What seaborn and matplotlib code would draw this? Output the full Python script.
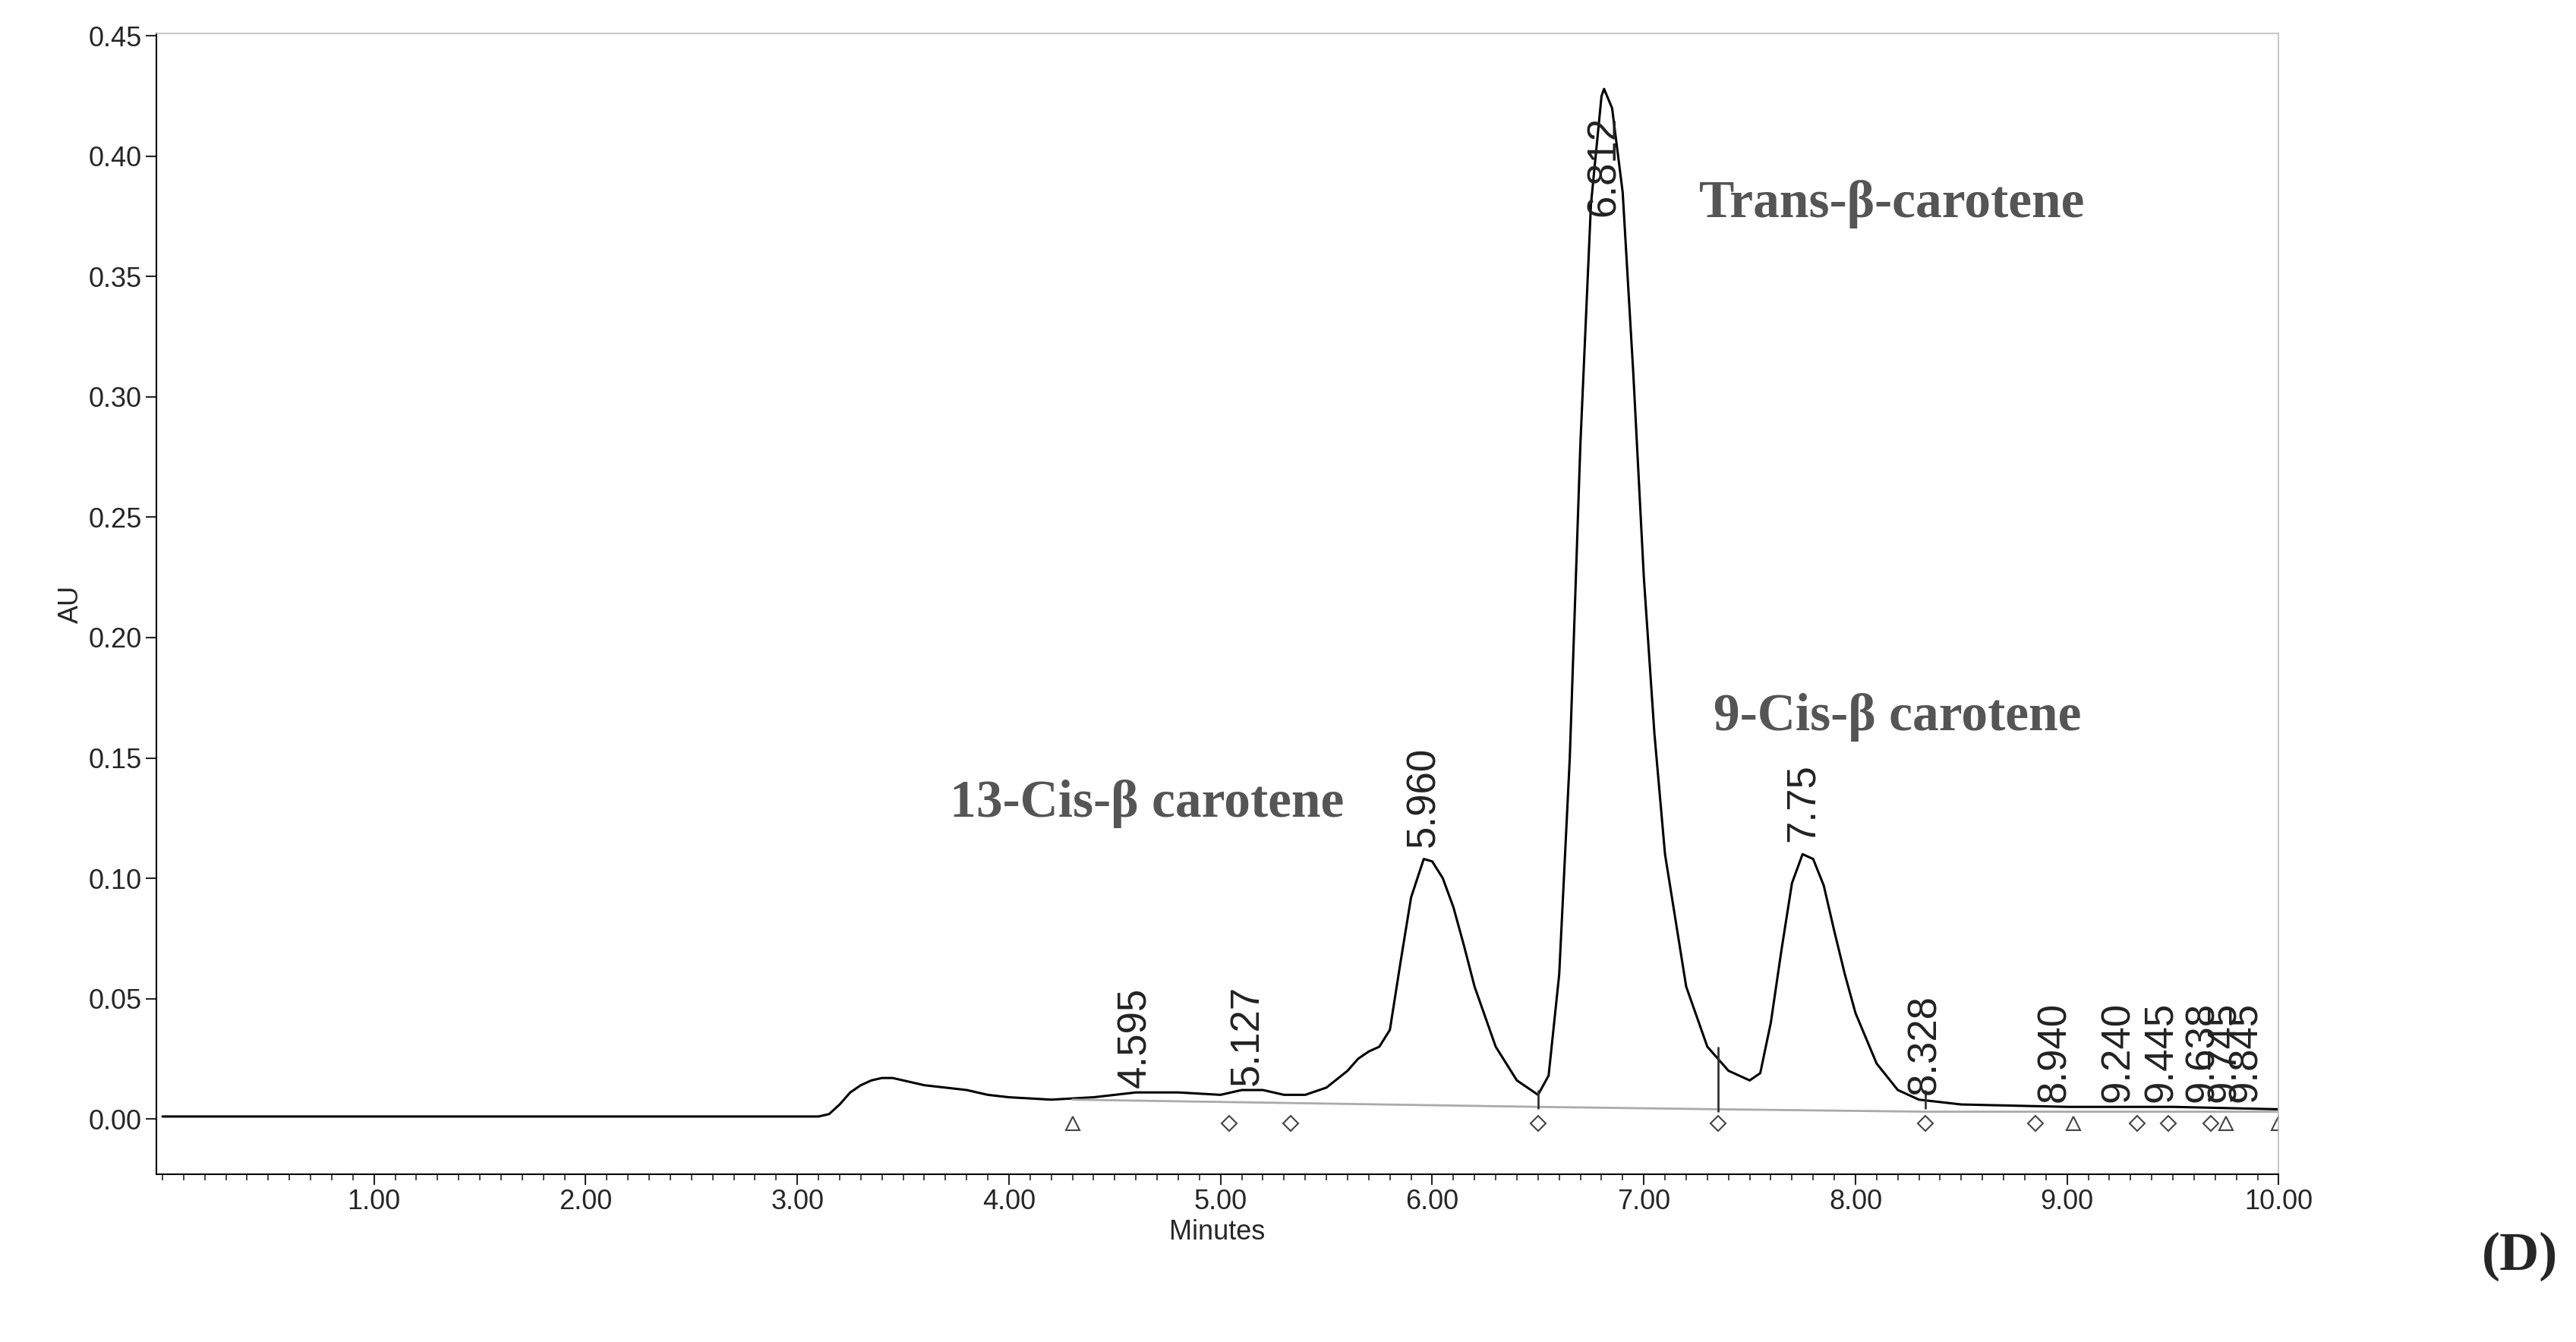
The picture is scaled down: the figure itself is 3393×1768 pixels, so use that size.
import numpy as np
import pandas as pd
import matplotlib
matplotlib.use("Agg")
import matplotlib.pyplot as plt
import seaborn as sns
from matplotlib.ticker import MultipleLocator, FormatStrFormatter

sns.set_theme(style="white")
plt.rcParams['font.family'] = ['Liberation Sans', 'DejaVu Sans']

# chromatogram trace (minutes, AU)
minutes = [0.0, 0.5, 1.0, 1.5, 2.0, 2.5, 3.0, 3.1, 3.15, 3.2, 3.25, 3.3, 3.35, 3.4, 3.45, 3.5,
           3.6, 3.7, 3.8, 3.9, 4.0, 4.2, 4.4, 4.6, 4.8, 5.0, 5.1, 5.2, 5.3, 5.4, 5.5, 5.6,
           5.65, 5.7, 5.75, 5.8, 5.85, 5.9, 5.96, 6.0, 6.05, 6.1, 6.15, 6.2, 6.3, 6.4, 6.5,
           6.55, 6.6, 6.65, 6.7, 6.75, 6.8, 6.812, 6.85, 6.9, 6.95, 7.0, 7.05, 7.1, 7.2,
           7.3, 7.4, 7.5, 7.55, 7.6, 7.65, 7.7, 7.75, 7.8, 7.85, 7.9, 7.95, 8.0, 8.1, 8.2,
           8.3, 8.5, 9.0, 9.5, 10.0]
au = [0.001, 0.001, 0.001, 0.001, 0.001, 0.001, 0.001, 0.001, 0.002, 0.006, 0.011, 0.014,
      0.016, 0.017, 0.017, 0.016, 0.014, 0.013, 0.012, 0.010, 0.009, 0.008, 0.009, 0.011,
      0.011, 0.010, 0.012, 0.012, 0.010, 0.010, 0.013, 0.020, 0.025, 0.028, 0.030, 0.037,
      0.065, 0.092, 0.108, 0.107, 0.100, 0.088, 0.072, 0.055, 0.030, 0.016, 0.010, 0.018,
      0.060, 0.150, 0.280, 0.380, 0.425, 0.428, 0.420, 0.385, 0.310, 0.225, 0.160, 0.110,
      0.055, 0.030, 0.020, 0.016, 0.019, 0.040, 0.070, 0.098, 0.110, 0.108, 0.097, 0.078,
      0.060, 0.044, 0.023, 0.012, 0.008, 0.006, 0.005, 0.005, 0.004]

# integration baseline
base_x = [4.3, 6.5, 7.35, 8.33, 10.0]
base_y = [0.008, 0.005, 0.004, 0.003, 0.003]

# peak labels
peak_rt = ["4.595", "5.127", "5.960", "6.812", "7.75", "8.328", "8.940", "9.240",
           "9.445", "9.638", "9.745", "9.845"]
peak_x = [4.595, 5.127, 5.960, 6.812, 7.75, 8.328, 8.940, 9.240, 9.445, 9.638, 9.745, 9.845]
peak_y = [0.013, 0.014, 0.113, 0.375, 0.115, 0.010, 0.007, 0.007, 0.007, 0.007, 0.007, 0.007]

tri_x = [4.3, 9.03, 9.75, 10.0]
dia_x = [5.04, 5.33, 6.5, 7.35, 8.33, 8.85, 9.33, 9.48, 9.68]

compounds = ["Trans-β-carotene", "9-Cis-β carotene", "13-Cis-β carotene"]
comp_x = [7.26, 7.33, 3.72]
comp_y = [0.380, 0.167, 0.131]

fig = plt.figure(figsize=(33.93, 17.68), dpi=100)
ax = fig.add_axes([0.0606, 0.125, 0.824, 0.85])

df = pd.DataFrame({"Minutes": minutes, "AU": au})
sns.lineplot(data=df, x="Minutes", y="AU", ax=ax, color="black", linewidth=2.2)
ax.plot(base_x, base_y, color="#aaaaaa", linewidth=2)
ax.plot(tri_x, [-0.002] * len(tri_x), linestyle="none", marker="^", markersize=13,
        markerfacecolor="white", markeredgecolor="#444444", markeredgewidth=1.5)
ax.plot(dia_x, [-0.002] * len(dia_x), linestyle="none", marker="D", markersize=10,
        markerfacecolor="white", markeredgecolor="#444444", markeredgewidth=1.5)
ax.vlines([7.35, 6.5, 8.33], [0.003, 0.004, 0.004], [0.030, 0.012, 0.012],
          color="#333333", linewidth=2)

for lab, x, y in zip(peak_rt, peak_x, peak_y):
    ax.text(x, y, lab, rotation=90, ha="center", va="bottom", fontsize=38, color="#222222")

for lab, x, y in zip(compounds, comp_x, comp_y):
    ax.text(x, y, lab, fontsize=50, fontweight="bold", color="#555555", va="center",
            family=["Liberation Serif", "DejaVu Serif"])

fig.text(0.993, 0.045, "(D)", fontsize=52, fontweight="bold", ha="right", va="bottom",
         family=["Liberation Serif", "DejaVu Serif"])

ax.set_xlim(-0.03, 10.0)
ax.set_ylim(-0.023, 0.451)
ax.xaxis.set_major_locator(MultipleLocator(1.0))
ax.xaxis.set_minor_locator(MultipleLocator(0.1))
ax.yaxis.set_major_locator(MultipleLocator(0.05))
ax.xaxis.set_major_formatter(FormatStrFormatter("%.2f"))
ax.yaxis.set_major_formatter(FormatStrFormatter("%.2f"))
ax.set_xticks([t for t in np.arange(1, 11)])
ax.tick_params(axis="both", which="major", labelsize=26, length=10, width=1.5,
               direction="out", bottom=True, left=True)
ax.tick_params(axis="x", which="minor", length=6, width=1.2, bottom=True)
ax.set_xlabel("Minutes", fontsize=26)
ax.set_ylabel("AU", fontsize=26)
for side in ["left", "bottom"]:
    ax.spines[side].set_color("black")
    ax.spines[side].set_linewidth(1.5)
for side in ["top", "right"]:
    ax.spines[side].set_color("#bbbbbb")
    ax.spines[side].set_linewidth(1.2)

fig.savefig("out.png", dpi=100, facecolor="white")
